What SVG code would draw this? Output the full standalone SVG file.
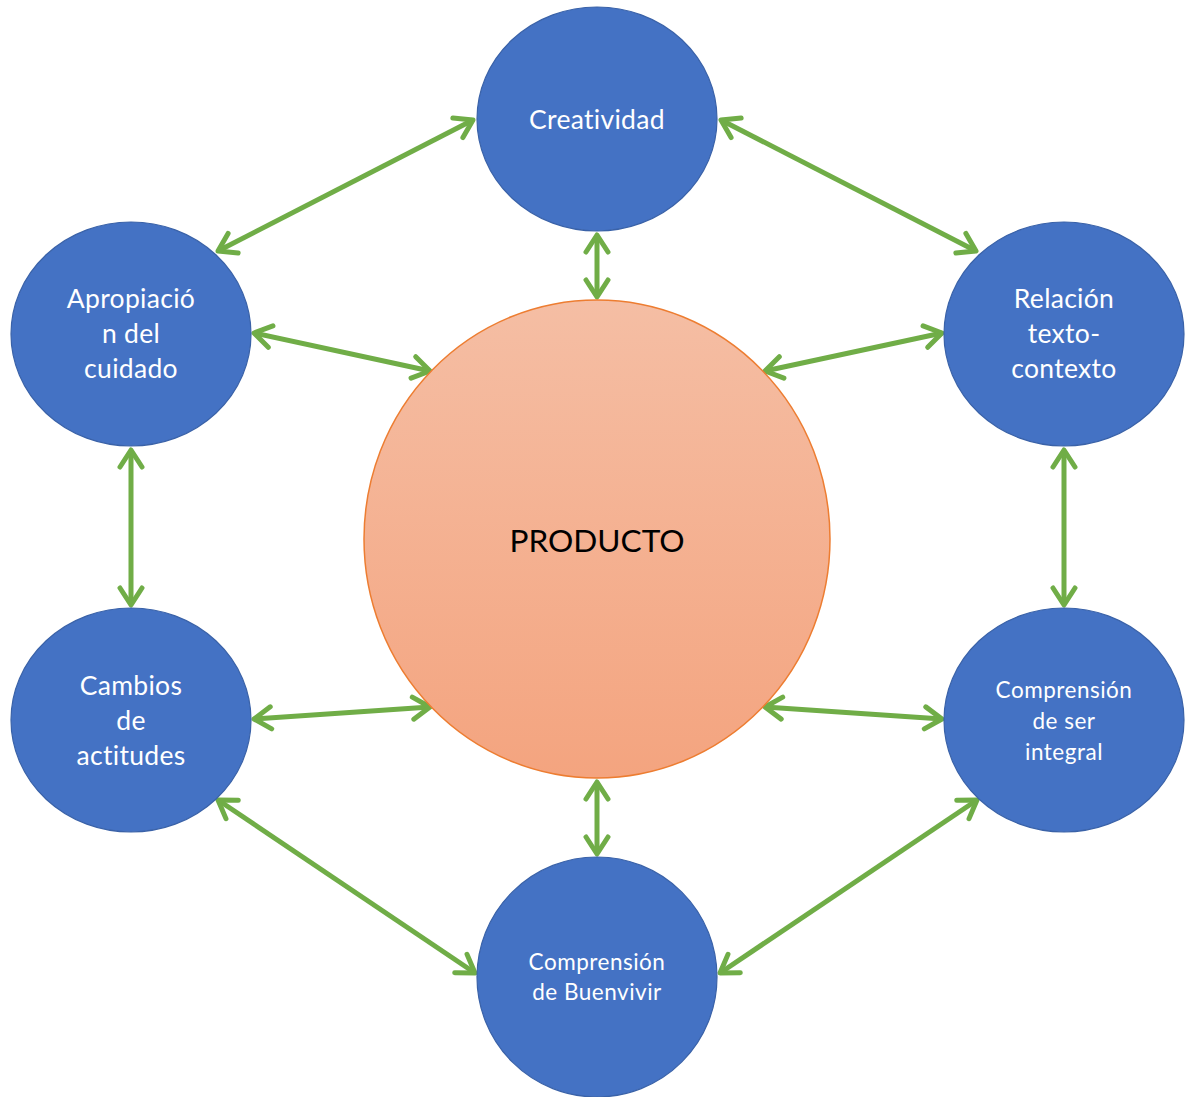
<svg xmlns="http://www.w3.org/2000/svg" width="1188" height="1097" viewBox="0 0 1188 1097">
<style>
.node ellipse{fill:#4472C4;stroke:#3A62A8;stroke-width:1.2}
.lbl{font-family:Lato,"Open Sans","Liberation Sans",sans-serif;fill:#FFFFFF;text-anchor:middle;font-size:26.5px;letter-spacing:0.3px}
.sm{font-size:22.5px;letter-spacing:0.5px}
.conn line{stroke:#70AD47;stroke-width:5;fill:none}
.ctr{font-family:Lato,"Open Sans","Liberation Sans",sans-serif;fill:#000000;text-anchor:middle;font-size:31.6px}
</style>
<defs>
<linearGradient id="g" x1="0" y1="0" x2="0" y2="1">
<stop offset="0" stop-color="#F5BEA4"/>
<stop offset="1" stop-color="#F4A47F"/>
</linearGradient>
<marker id="ah" viewBox="-22 -14 26 28" markerWidth="26" markerHeight="28" refX="0" refY="0" orient="auto-start-reverse" markerUnits="userSpaceOnUse">
<path d="M -17 -11 L 0 0 L -17 11" fill="none" stroke="#70AD47" stroke-width="5" stroke-linecap="round" stroke-linejoin="round"/>
</marker>
</defs>
<rect width="1188" height="1097" fill="#FFFFFF"/>
<g class="conn">
<line x1="473" y1="120" x2="218" y2="251" marker-start="url(#ah)" marker-end="url(#ah)"/>
<line x1="721" y1="120" x2="976" y2="251" marker-start="url(#ah)" marker-end="url(#ah)"/>
<line x1="597" y1="235" x2="597" y2="297" marker-start="url(#ah)" marker-end="url(#ah)"/>
<line x1="254" y1="333" x2="430" y2="371" marker-start="url(#ah)" marker-end="url(#ah)"/>
<line x1="942" y1="333" x2="765" y2="371" marker-start="url(#ah)" marker-end="url(#ah)"/>
<line x1="131" y1="450" x2="131" y2="605" marker-start="url(#ah)" marker-end="url(#ah)"/>
<line x1="1064" y1="450" x2="1064" y2="605" marker-start="url(#ah)" marker-end="url(#ah)"/>
<line x1="254" y1="719" x2="430" y2="707" marker-start="url(#ah)" marker-end="url(#ah)"/>
<line x1="942" y1="719" x2="765" y2="707" marker-start="url(#ah)" marker-end="url(#ah)"/>
<line x1="597" y1="782" x2="597" y2="854" marker-start="url(#ah)" marker-end="url(#ah)"/>
<line x1="218" y1="800" x2="475" y2="973" marker-start="url(#ah)" marker-end="url(#ah)"/>
<line x1="977" y1="800" x2="720" y2="973" marker-start="url(#ah)" marker-end="url(#ah)"/>
</g>
<g id="producto">
<ellipse cx="597" cy="539" rx="233" ry="239" fill="url(#g)" stroke="#ED7D31" stroke-width="1.5"/>
<text class="ctr" x="597" y="552">PRODUCTO</text>
</g>
<g id="creatividad" class="node">
<ellipse cx="597" cy="119" rx="120" ry="112"/>
<text class="lbl" x="597" y="129">Creatividad</text>
</g>
<g id="apropiacion" class="node">
<ellipse cx="131" cy="334" rx="120" ry="112"/>
<text class="lbl" x="131" y="308">Apropiació</text>
<text class="lbl" x="131" y="343">n del</text>
<text class="lbl" x="131" y="378">cuidado</text>
</g>
<g id="relacion" class="node">
<ellipse cx="1064" cy="334" rx="120" ry="112"/>
<text class="lbl" x="1064" y="308">Relación</text>
<text class="lbl" x="1064" y="343">texto-</text>
<text class="lbl" x="1064" y="378">contexto</text>
</g>
<g id="cambios" class="node">
<ellipse cx="131" cy="720" rx="120" ry="112"/>
<text class="lbl" x="131" y="695">Cambios</text>
<text class="lbl" x="131" y="730">de</text>
<text class="lbl" x="131" y="765">actitudes</text>
</g>
<g id="comprension-ser" class="node">
<ellipse cx="1064" cy="720" rx="120" ry="112"/>
<text class="lbl sm" x="1064" y="698">Comprensión</text>
<text class="lbl sm" x="1064" y="729">de ser</text>
<text class="lbl sm" x="1064" y="760">integral</text>
</g>
<g id="buenvivir" class="node">
<ellipse cx="597" cy="977" rx="120" ry="120"/>
<text class="lbl sm" x="597" y="970">Comprensión</text>
<text class="lbl sm" x="597" y="1000">de Buenvivir</text>
</g>
</svg>
